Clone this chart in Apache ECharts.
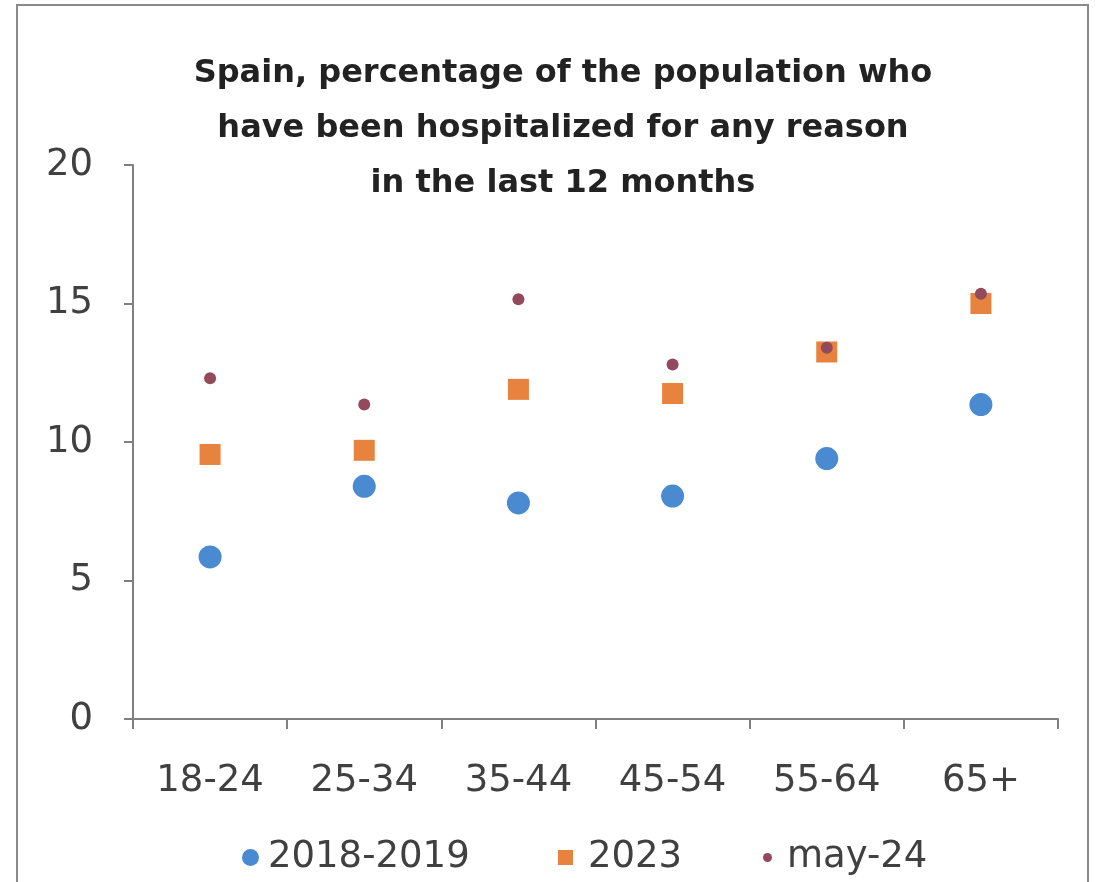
<!DOCTYPE html>
<html>
<head>
<meta charset="utf-8">
<script src="https://cdn.jsdelivr.net/npm/echarts@6/dist/echarts.min.js"></script>
<style>
  html, body { margin: 0; padding: 0; background: #fff; }
  #chart { width: 1109px; height: 882px; }
</style>
</head>
<body>
<div id="chart"></div>
<script>
// age groups on the x axis
var ageGroups = ['18-24', '25-34', '35-44', '45-54', '55-64', '65+'];
// % of population hospitalized in the last 12 months
var values2018 = [5.85, 8.4, 7.8, 8.05, 9.4, 11.35];
var values2023 = [9.55, 9.7, 11.9, 11.75, 13.25, 15.0];
var valuesMay24 = [12.3, 11.35, 15.15, 12.8, 13.4, 15.35];
var yTicks = [0, 5, 10, 15, 20];

var textColor = '#404040';
var font = "'DejaVu Sans', sans-serif";

var chart = echarts.init(document.getElementById('chart'));

chart.setOption({
    animation: false,
    backgroundColor: '#fff',
    graphic: [{
        type: 'rect',
        shape: { x: 17, y: 5, width: 1071, height: 900 },
        style: { fill: 'none', stroke: '#8a8a8a', lineWidth: 2 },
        silent: true
    }, {
        // title, centred a little left of the plot like the original
        type: 'text',
        x: 563,
        y: 46,
        style: {
            text: 'Spain, percentage of the population who\nhave been hospitalized for any reason\nin the last 12 months',
            align: 'center',
            verticalAlign: 'top',
            font: 'bold 32px ' + font,
            lineHeight: 55,
            fill: '#222'
        },
        silent: true
    }],
    legend: [{
        data: ['2018-2019'],
        left: 237,
        top: 834,
        itemWidth: 17,
        itemHeight: 17,
        textStyle: { fontFamily: font, fontSize: 37, color: textColor, padding: [0, 0, 0, 4] }
    }, {
        data: ['2023'],
        left: 553,
        top: 834,
        itemWidth: 15,
        itemHeight: 15,
        textStyle: { fontFamily: font, fontSize: 37, color: textColor, padding: [0, 0, 0, 10] }
    }, {
        data: ['may-24'],
        left: 758,
        top: 834,
        itemWidth: 9,
        itemHeight: 9,
        textStyle: { fontFamily: font, fontSize: 37, color: textColor, padding: [0, 0, 0, 10] }
    }],
    grid: {
        left: 133,
        right: 51,
        top: 165,
        bottom: 163,
        containLabel: false
    },
    xAxis: {
        type: 'category',
        data: ageGroups,
        boundaryGap: true,
        axisLine: { lineStyle: { color: '#808080', width: 2 } },
        axisTick: { show: true, alignWithLabel: false, length: 10, lineStyle: { color: '#808080', width: 2 } },
        axisLabel: { fontFamily: font, fontSize: 37, color: textColor, margin: 44 },
        splitLine: { show: false }
    },
    yAxis: {
        type: 'value',
        min: yTicks[0],
        max: yTicks[yTicks.length - 1],
        interval: 5,
        axisLine: { show: true, lineStyle: { color: '#808080', width: 2 } },
        axisTick: { show: true, length: 9, lineStyle: { color: '#808080', width: 2 } },
        axisLabel: { fontFamily: font, fontSize: 37, color: textColor, margin: 40 },
        splitLine: { show: false }
    },
    series: [{
        name: '2018-2019',
        type: 'scatter',
        symbol: 'circle',
        symbolSize: 23,
        itemStyle: { color: '#4a8ad0', opacity: 1 },
        data: values2018
    }, {
        name: '2023',
        type: 'scatter',
        symbol: 'rect',
        symbolSize: 21,
        itemStyle: { color: '#e8823f', opacity: 1 },
        data: values2023
    }, {
        name: 'may-24',
        type: 'scatter',
        symbol: 'circle',
        symbolSize: 12,
        itemStyle: { color: '#934a5c', opacity: 1 },
        data: valuesMay24
    }]
});
</script>
</body>
</html>
